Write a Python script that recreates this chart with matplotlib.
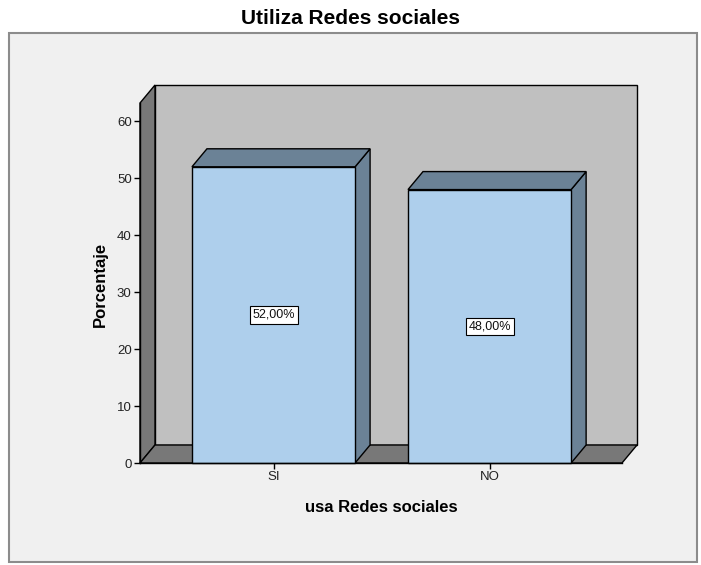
import matplotlib.pyplot as plt
from matplotlib.patches import Polygon, Rectangle

# datos del grafico
categorias = ["SI", "NO"]
porcentajes = [52.0, 48.0]
etiquetas = ["52,00%", "48,00%"]
marcas_y = [0, 10, 20, 30, 40, 50, 60]

plt.rcParams['font.family'] = ['Liberation Sans', 'DejaVu Sans']

fig = plt.figure(figsize=(7.01, 5.65), dpi=100)
fig.patch.set_facecolor('white')

# marco gris claro alrededor del grafico
fig.patches.append(Rectangle((9 / 701, 3 / 565), 688 / 701, 529 / 565,
                             transform=fig.transFigure, facecolor='#f0f0f0',
                             edgecolor='#8c8c8c', lw=1.5, zorder=-5))

ax = fig.add_axes([140 / 701, 102 / 565, 482 / 701, 360 / 565])
ax.set_xlim(-0.618, 1.613)
ax.set_ylim(0, 63.2)
ax.patch.set_visible(False)

# profundidad del efecto 3D (en pixeles)
prof_x, prof_y = 15, 18
dx = prof_x / 482
dy = prof_y / 360
xr = ax.get_xlim()[1] - ax.get_xlim()[0]
yr = ax.get_ylim()[1] - ax.get_ylim()[0]
dxd, dyd = dx * xr, dy * yr

gris_pared = '#c0c0c0'
gris_oscuro = '#787878'
pared = Polygon([(dx, dy), (1 + dx, dy), (1 + dx, 1 + dy), (dx, 1 + dy)],
                transform=ax.transAxes, facecolor=gris_pared, edgecolor='black',
                lw=1, clip_on=False, zorder=0.5)
lado = Polygon([(0, 0), (dx, dy), (dx, 1 + dy), (0, 1)],
               transform=ax.transAxes, facecolor=gris_oscuro, edgecolor='black',
               lw=1, clip_on=False, zorder=0.6)
piso = Polygon([(0, 0), (1, 0), (1 + dx, dy), (dx, dy)],
               transform=ax.transAxes, facecolor=gris_oscuro, edgecolor='black',
               lw=1, clip_on=False, zorder=0.6)
for p in (pared, lado, piso):
    ax.add_patch(p)

ancho = 0.755
azul = '#aecfec'
azul_osc = '#6b8296'
for i, v in enumerate(porcentajes):
    x0 = i - ancho / 2
    x1 = i + ancho / 2
    ax.add_patch(Polygon([(x1, 0), (x1 + dxd, dyd), (x1 + dxd, v + dyd), (x1, v)],
                         facecolor=azul_osc, edgecolor='black', lw=1, clip_on=False, zorder=2))
    ax.add_patch(Polygon([(x0, v), (x1, v), (x1 + dxd, v + dyd), (x0 + dxd, v + dyd)],
                         facecolor=azul_osc, edgecolor='black', lw=1, clip_on=False, zorder=2))
    ax.add_patch(Rectangle((x0, 0), ancho, v, facecolor=azul, edgecolor='black',
                           lw=1, clip_on=False, zorder=2.1))
    ax.text(i, v / 2, etiquetas[i], ha='center', va='center', fontsize=9,
            color='#111111', zorder=3,
            bbox=dict(boxstyle='square,pad=0.22', facecolor='white',
                      edgecolor='black', lw=0.8))

ax.set_xticks(range(len(categorias)), categorias)
ax.set_yticks(marcas_y)
ax.tick_params(axis='both', direction='out', length=4.5, width=1,
               labelsize=9.5, labelcolor='#222222', pad=1.5)
for s in ('top', 'right'):
    ax.spines[s].set_visible(False)
for s in ('left', 'bottom'):
    ax.spines[s].set_zorder(2.5)
    ax.spines[s].set_linewidth(1)

ax.text(-40 / 482, 0.497, 'Porcentaje', transform=ax.transAxes, rotation=90,
        ha='center', va='center', fontsize=12, fontweight='bold')
ax.text(0.5, -0.125, 'usa Redes sociales', transform=ax.transAxes,
        ha='center', va='center', fontsize=12, fontweight='bold')
fig.text(0.5, 1 - 18 / 565, 'Utiliza Redes sociales', ha='center', va='center',
         fontsize=15, fontweight='bold')

plt.savefig('out.png', dpi=100)
plt.close()
